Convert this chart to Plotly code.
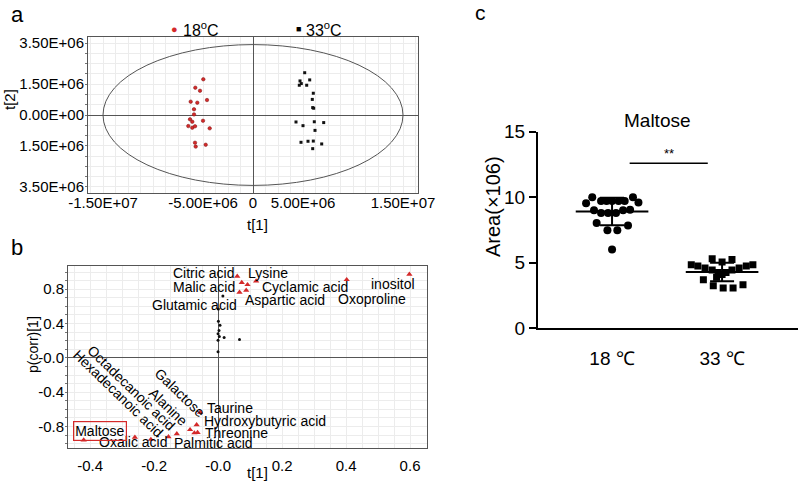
import numpy as np
import plotly.graph_objects as go

# ---------------- data ----------------
# panel a: PCA scores (t[1], t[2])
a_18_t1 = [-4.97e6, -5.77e6, -5.30e6, -6.23e6, -5.57e6, -4.60e6, -5.90e6, -5.90e6, -6.30e6,
           -6.07e6, -5.00e6, -6.47e6, -6.07e6, -5.80e6, -4.33e6, -5.80e6, -5.73e6, -4.73e6]
a_18_t2 = [1.74e6, 1.33e6, 1.18e6, 0.65e6, 0.60e6, 0.73e6, 0.28e6, 0.03e6, -0.21e6,
           -0.33e6, -0.28e6, -0.54e6, -0.62e6, -0.55e6, -0.65e6, -1.35e6, -1.54e6, -1.45e6]
a_33_t1 = [5.17e6, 4.70e6, 5.67e6, 4.63e6, 4.83e6, 5.37e6, 6.03e6, 5.93e6, 5.97e6, 6.07e6,
           4.30e6, 5.00e6, 6.13e6, 7.07e6, 6.20e6, 4.80e6, 5.50e6, 6.03e6, 6.87e6, 5.97e6]
a_33_t2 = [2.06e6, 1.66e6, 1.71e6, 1.45e6, 1.53e6, 1.45e6, 1.06e6, 0.76e6, 0.36e6, 0.33e6,
           -0.34e6, -0.52e6, -0.33e6, -0.37e6, -0.75e6, -1.33e6, -1.28e6, -1.27e6, -1.41e6, -1.64e6]
ellipse_rx = 1.5e7
ellipse_ry = 3.43e6
a_xticks = [-1.5e7, -5e6, 0, 5e6, 1.5e7]
a_xticktext = ['-1.50E+07', '-5.00E+06', '0', '5.00E+06', '1.50E+07']
a_yticks = [3.5e6, 1.5e6, 0, -1.5e6, -3.5e6]
a_yticktext = ['3.50E+06', '1.50E+06', '0.00E+00', '1.50E+06', '3.50E+06']

# panel b: S-plot (t[1], p(corr)[1])
b_dot_x = [0.001, 0.006, 0.003, 0.0, 0.004, 0.0, 0.019, 0.067, 0.0, 0.015, 0.001]
b_dot_y = [0.427, 0.38, 0.32, 0.28, 0.25, 0.206, 0.237, 0.214, 0.07, 0.72, 0.57]
b_tri_x = [0.06, 0.074, 0.092, 0.119, 0.067, 0.088, 0.402, 0.598,
           -0.42, -0.26, -0.21, -0.155, -0.129, -0.0875, -0.074, -0.064, -0.067, -0.056]
b_tri_y = [0.95, 0.877, 0.853, 0.895, 0.764, 0.787, 0.91, 0.973,
           -0.957, -0.925, -0.95, -0.92, -0.885, -0.836, -0.875, -0.87, -0.78, -0.635]
b_ticks_x = [-0.4, -0.2, 0.0, 0.2, 0.4, 0.6]
b_ticktext_x = ['-0.4', '-0.2', '-0.0', '0.2', '0.4', '0.6']
b_ticks_y = [0.8, 0.4, 0.0, -0.4, -0.8]
b_ticktext_y = ['0.8', '0.4', '-0.0', '-0.4', '-0.8']
# labels: (text, x, y, anchor, angle)
b_labels = [
    ('Citric acid', 0.056, 0.988, 'right', 0),
    ('Lysine', 0.0875, 0.988, 'left', 0),
    ('Malic acid', 0.059, 0.826, 'right', 0),
    ('Cyclamic acid', 0.131, 0.826, 'left', 0),
    ('Glutamic acid', 0.066, 0.613, 'right', 0),
    ('Aspartic acid', 0.078, 0.671, 'left', 0),
    ('inositol', 0.622, 0.857, 'right', 0),
    ('Oxoproline', 0.594, 0.683, 'right', 0),
    ('Taurine', -0.041, -0.588, 'left', 0),
    ('Hydroxybutyric acid', -0.05, -0.733, 'left', 0),
    ('Threonine', -0.047, -0.872, 'left', 0),
    ('Palmitic acid', -0.144, -0.988, 'left', 0),
    ('Oxalic acid', -0.378, -0.977, 'left', 0),
    ('Galactose', -0.119, -0.414, 'center', 44),
    ('Alanine', -0.155, -0.57, 'center', 44),
    ('Octadecanoic acid', -0.27, -0.347, 'center', 44),
    ('Hexadecanoic acid', -0.314, -0.414, 'center', 44),
]
b_highlight = ('Maltose', -0.369, -0.849)

# panel c: Maltose peak area (x10^6)
c_groups = ['18 ℃', '33 ℃']
c_18_jitter = [-0.18, 0.19, -0.10, -0.05, 0.0, 0.06, 0.115, -0.236, 0.24, -0.164,
               -0.10, -0.036, 0.036, 0.10, 0.164, -0.14, 0.145, -0.042, 0.048, 0.0]
c_18_vals = [10.0, 10.0, 9.72, 9.72, 9.72, 9.72, 9.72, 9.55, 9.6, 9.0,
             8.8, 8.8, 8.8, 9.0, 9.05, 8.04, 7.84, 7.49, 7.49, 6.02]
c_33_jitter = [-0.28, -0.22, -0.155, -0.09, 0.28, 0.22, 0.155, 0.09, -0.036, 0.0,
               0.036, -0.09, 0.0, 0.09, -0.17, -0.08, 0.01, 0.1, 0.19, -0.05]
c_33_vals = [4.85, 4.75, 4.6, 4.45, 4.85, 4.75, 4.6, 4.45, 4.25, 4.1,
             4.25, 5.3, 5.05, 5.25, 3.7, 3.24, 3.07, 3.07, 3.32, 3.9]
c_sig = ('**', 1.16, 1.87, 12.6)
c_yticks = [0, 5, 10, 15]

# ---------------- layout helpers ----------------
W, H = 800, 484
def xd(l, r):
    return [l / W, r / W]
def yd(t, b):
    return [1 - b / H, 1 - t / H]
def px(x):
    return x / W
def py(y):
    return 1 - y / H

SANS = 'Liberation Sans, Arial, sans-serif'
RED = '#d42a2a'

fig = go.Figure()

# ---- panel a ----
fig.add_trace(go.Scatter(x=a_18_t1, y=a_18_t2, mode='markers', xaxis='x', yaxis='y',
                         marker=dict(symbol='circle', size=3.5, color=RED,
                                     line=dict(color='#7a1010', width=0.5))))
fig.add_trace(go.Scatter(x=a_33_t1, y=a_33_t2, mode='markers', xaxis='x', yaxis='y',
                         marker=dict(symbol='square', size=3, color='#111')))
fig.add_shape(type='circle', xref='x', yref='y', x0=-ellipse_rx, x1=ellipse_rx,
              y0=-ellipse_ry, y1=ellipse_ry, line=dict(color='#555', width=1))

# ---- panel b ----
fig.add_trace(go.Scatter(x=b_dot_x, y=b_dot_y, mode='markers', xaxis='x2', yaxis='y2',
                         marker=dict(symbol='circle', size=3, color='#111')))
fig.add_trace(go.Scatter(x=b_tri_x, y=b_tri_y, mode='markers', xaxis='x2', yaxis='y2',
                         marker=dict(symbol='triangle-up', size=5.5, color=RED)))

# ---- panel c ----
c_18_x = [1 + j for j in c_18_jitter]
c_33_x = [2 + j for j in c_33_jitter]
fig.add_trace(go.Scatter(x=c_18_x, y=c_18_vals, mode='markers', xaxis='x3', yaxis='y3',
                         marker=dict(symbol='circle', size=8, color='black')))
fig.add_trace(go.Scatter(x=c_33_x, y=c_33_vals, mode='markers', xaxis='x3', yaxis='y3',
                         marker=dict(symbol='square', size=7, color='black')))
for gi, vals in enumerate([c_18_vals, c_33_vals]):
    xc = gi + 1
    m = float(np.mean(vals))
    sd = float(np.std(vals, ddof=1))
    fig.add_trace(go.Scatter(x=[xc - 0.33, xc + 0.33], y=[m, m], mode='lines',
                             xaxis='x3', yaxis='y3', line=dict(color='black', width=2)))
    fig.add_trace(go.Scatter(x=[xc], y=[m], mode='markers', xaxis='x3', yaxis='y3',
                             marker=dict(size=1, color='rgba(0,0,0,0)'),
                             error_y=dict(type='data', array=[sd], visible=True,
                                          color='black', thickness=2, width=12)))
fig.add_shape(type='line', xref='x3', yref='y3', x0=c_sig[1], x1=c_sig[2],
              y0=c_sig[3], y1=c_sig[3], line=dict(color='black', width=1.5))

ann = []
# panel letters
ann.append(dict(text='a', x=px(17), y=py(14), font=dict(size=22)))
ann.append(dict(text='b', x=px(17), y=py(248), font=dict(size=22)))
ann.append(dict(text='c', x=px(480), y=py(13), font=dict(size=21)))
# panel a legend and titles
ann.append(dict(text='●', x=px(174), y=py(29), font=dict(size=11, color=RED)))
ann.append(dict(text='18<sup>o</sup>C', x=px(181), y=py(29), xanchor='left', font=dict(size=16)))
ann.append(dict(text='■', x=px(298), y=py(29), font=dict(size=9, color='black')))
ann.append(dict(text='33<sup>o</sup>C', x=px(304), y=py(29), xanchor='left', font=dict(size=16)))
ann.append(dict(text='t[2]', x=px(10), y=py(100), textangle=-90, font=dict(size=15)))
ann.append(dict(text='t[1]', x=px(257), y=py(225), font=dict(size=15)))
# panel b titles and labels
ann.append(dict(text='p(corr)[1]', x=px(33), y=py(345), textangle=-90, font=dict(size=14)))
ann.append(dict(text='t[1]', x=px(257), y=py(472), font=dict(size=15)))
for txt, lx, ly, anc, ang in b_labels:
    ann.append(dict(text=txt, x=lx, y=ly, xref='x2', yref='y2', xanchor=anc,
                    textangle=ang, font=dict(size=14)))
ann.append(dict(text=b_highlight[0], x=b_highlight[1], y=b_highlight[2], xref='x2', yref='y2',
                font=dict(size=14), bordercolor=RED, borderwidth=1.2, borderpad=1))
# panel c titles
ann.append(dict(text='Maltose', x=px(657), y=py(120), font=dict(size=19)))
ann.append(dict(text='Area(×106)', x=px(493), y=py(207), textangle=-90, font=dict(size=20)))
ann.append(dict(text=c_sig[0], x=(c_sig[1] + c_sig[2]) / 2, y=c_sig[3], xref='x3', yref='y3',
                yanchor='bottom', font=dict(size=13)))

for a in ann:
    a.setdefault('xref', 'paper')
    a.setdefault('yref', 'paper')
    a.setdefault('xanchor', 'center')
    a.setdefault('yanchor', 'middle')
    a['showarrow'] = False
    f = a.setdefault('font', {})
    f.setdefault('family', SANS)
    f.setdefault('color', 'black')

box_axis = dict(showline=True, linecolor='#555', linewidth=1, mirror=True, ticks='',
                showgrid=False, zeroline=True, zerolinecolor='#555', zerolinewidth=1,
                automargin=False,
                tickfont=dict(family=SANS, size=15, color='black'))

fig.update_layout(
    width=W, height=H, margin=dict(l=0, r=0, t=0, b=0, autoexpand=False),
    paper_bgcolor='white', plot_bgcolor='white', showlegend=False,
    font=dict(family=SANS, color='black'),
    annotations=ann,
    xaxis=dict(box_axis, domain=xd(88, 418), range=[-1.65e7, 1.65e7], anchor='y',
               tickvals=a_xticks, ticktext=a_xticktext, ticklabelstandoff=-4,
               minor=dict(dtick=1.25e6, tick0=0, showgrid=True, gridcolor='#ececec', gridwidth=1)),
    yaxis=dict(box_axis, domain=yd(37, 193), range=[-3.8e6, 3.8e6], anchor='x',
               tickvals=a_yticks, ticktext=a_yticktext,
               minor=dict(dtick=5e5, tick0=0, showgrid=True, gridcolor='#ececec', gridwidth=1,
                          ticks='outside', ticklen=2, tickcolor='#777')),
    xaxis2=dict(box_axis, domain=xd(68, 427), range=[-0.469, 0.653], anchor='y2',
                tickvals=b_ticks_x, ticktext=b_ticktext_x, ticklabelstandoff=4,
                minor=dict(dtick=0.05, tick0=0, showgrid=True, gridcolor='#ececec', gridwidth=1)),
    yaxis2=dict(box_axis, domain=yd(266, 448), range=[-1.05, 1.07], anchor='x2',
                tickvals=b_ticks_y, ticktext=b_ticktext_y,
                minor=dict(dtick=0.1, tick0=0, showgrid=True, gridcolor='#ececec', gridwidth=1,
                           ticks='outside', ticklen=2, tickcolor='#777')),
    xaxis3=dict(domain=xd(538, 798), range=[0.327, 2.69], anchor='y3', automargin=False,
                showline=True, linecolor='black', linewidth=2, ticks='', showgrid=False,
                zeroline=False, tickvals=[1, 2], ticktext=c_groups, ticklabelstandoff=12,
                tickfont=dict(family=SANS, size=19, color='black')),
    yaxis3=dict(domain=yd(131.7, 328.3), range=[0, 15], anchor='x3', automargin=False,
                showline=True, linecolor='black', linewidth=2, ticks='outside', ticklen=7,
                tickwidth=2, tickcolor='black', showgrid=False, zeroline=False,
                tickvals=c_yticks, tickfont=dict(family=SANS, size=19, color='black')),
)

fig.write_html("out.html", config={'displayModeBar': False},
               post_script=["document.body.style.margin='0';"])
